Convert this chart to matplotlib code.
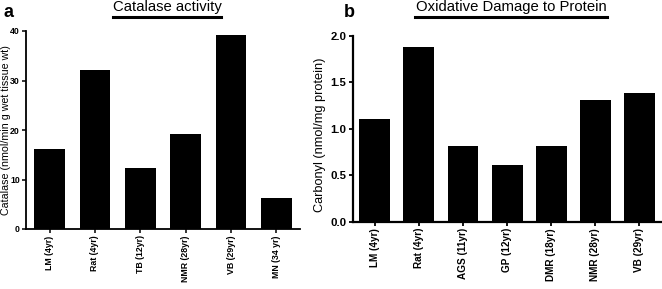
import matplotlib
matplotlib.use("Agg")
import matplotlib.pyplot as plt
from matplotlib.lines import Line2D

plt.rcParams['font.family'] = ['Liberation Sans', 'DejaVu Sans']

# Panel a data
cat_a = ["LM (4yr)", "Rat (4yr)", "TB (12yr)", "NMR (28yr)", "VB (29yr)", "MN (34 yr)"]
val_a = [16.1, 32.1, 12.4, 19.1, 39.1, 6.3]
yticks_a = [0, 10, 20, 30, 40]

# Panel b data
cat_b = ["LM (4yr)", "Rat (4yr)", "AGS (11yr)", "GP (12yr)", "DMR (18yr)", "NMR (28yr)", "VB (29yr)"]
val_b = [1.11, 1.885, 0.81, 0.61, 0.81, 1.31, 1.39]
yticks_b = [0.0, 0.5, 1.0, 1.5, 2.0]

W, H = 662, 289
fig = plt.figure(figsize=(W/100, H/100), dpi=100)

def fx(px): return px / W
def fy(py): return 1 - py / H

# Panel a
axa = fig.add_axes([fx(26), fy(229), fx(300-26), (229-31)/H])
axa.bar(range(len(cat_a)), val_a, width=0.68, color='black')
axa.set_xlim(-0.52, len(cat_a) - 0.48)
axa.set_ylim(0, 40)
axa.set_yticks(yticks_a)
axa.set_yticklabels([str(t) for t in yticks_a], fontsize=6.3, fontweight='bold')
axa.set_xticks(range(len(cat_a)))
axa.set_xticklabels(cat_a, rotation=90, fontsize=6.3, fontweight='bold')
axa.set_ylabel("Catalase (nmol/min g wet tissue wt)", fontsize=7.7)
axa.yaxis.set_label_coords((11-26)/274, 0.5)
for s in ['top', 'right']:
    axa.spines[s].set_visible(False)
for s in ['left', 'bottom']:
    axa.spines[s].set_linewidth(1.3)
axa.tick_params(axis='both', width=1.1, length=3, pad=1.5)

# Panel b
axb = fig.add_axes([fx(352.7), fy(221.7), fx(661.5-352.7), (221.7-36)/H])
axb.bar(range(len(cat_b)), val_b, width=0.70, color='black')
axb.set_xlim(-0.5, len(cat_b) - 0.5)
axb.set_ylim(0, 2.0)
axb.set_yticks(yticks_b)
axb.set_yticklabels([f"{t:.1f}" for t in yticks_b], fontsize=8.2, fontweight='bold')
axb.set_xticks(range(len(cat_b)))
axb.set_xticklabels(cat_b, rotation=90, fontsize=7.2, fontweight='bold')
axb.set_ylabel("Carbonyl (nmol/mg protein)", fontsize=9.2)
axb.yaxis.set_label_coords((326-352.7)/308.8, 0.47)
for s in ['top', 'right']:
    axb.spines[s].set_visible(False)
for s in ['left', 'bottom']:
    axb.spines[s].set_linewidth(1.6)
axb.tick_params(axis='both', width=1.3, length=3, pad=1.5)

# Titles with underline
fig.text(fx(167), fy(6.5), "Catalase activity", ha='center', va='center', fontsize=10.7)
fig.add_artist(Line2D([fx(113), fx(221)], [fy(16.7), fy(16.7)], color='black', linewidth=2.2))
fig.text(fx(511.4), fy(6.5), "Oxidative Damage to Protein", ha='center', va='center', fontsize=10.7)
fig.add_artist(Line2D([fx(415), fx(606.7)], [fy(16.7), fy(16.7)], color='black', linewidth=2.2))

# Panel labels
fig.text(fx(3), fy(17), "a", fontsize=13, fontweight='bold', ha='left', va='baseline')
fig.text(fx(344), fy(17), "b", fontsize=13, fontweight='bold', ha='left', va='baseline')

fig.savefig("out.png", dpi=100)
